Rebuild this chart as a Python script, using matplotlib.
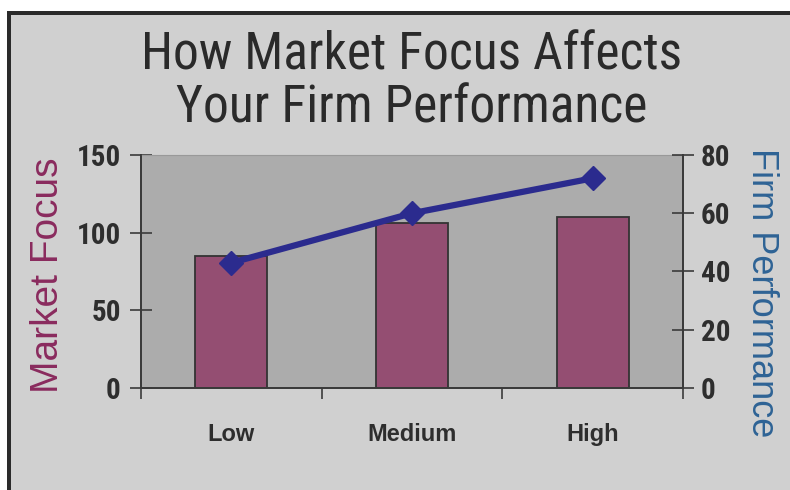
import matplotlib
matplotlib.use("Agg")
import matplotlib.pyplot as plt
from matplotlib import font_manager
from matplotlib.font_manager import FontProperties
from matplotlib.patches import Rectangle

# Chart data
categories = ["Low", "Medium", "High"]
market_focus = [85, 106, 110]
firm_performance = [43, 60, 72]
left_ticks = [0, 50, 100, 150]
right_ticks = [0, 20, 40, 60, 80]


def narrow_font(bold=False):
    """Pick a condensed sans face if one is installed, else plain Liberation Sans."""
    want = "bold" if bold else "normal"
    entries = font_manager.fontManager.ttflist
    preferred = ["Liberation Sans Narrow", "Arial Narrow", "Roboto Condensed",
                 "Open Sans Condensed", "DejaVu Sans Condensed", "Noto Sans Condensed"]
    def weight_ok(f):
        w = f.weight if isinstance(f.weight, int) else {"normal": 400, "regular": 400, "bold": 700}.get(str(f.weight), 400)
        return (w >= 600) == bold and f.style == "normal"
    for name in preferred:
        for f in entries:
            if f.name == name and weight_ok(f):
                return FontProperties(fname=f.fname)
    for f in entries:
        if str(f.stretch) in ("condensed", "semi-condensed", "extra-condensed") and "Sans" in f.name and weight_ok(f):
            return FontProperties(fname=f.fname)
    for f in entries:
        if ("Condensed" in f.fname or "Narrow" in f.fname) and "Sans" in f.fname and weight_ok(f):
            return FontProperties(fname=f.fname)
    return FontProperties(family="Liberation Sans", weight=want)


REGULAR = "Liberation Sans"
title_font = narrow_font(False)
tick_font = narrow_font(True)

BG = "#d0d0d0"
PLOT_BG = "#acacac"
BAR = "#944e72"
LINE = "#2b2b8e"
TEXT = "#2e2e2e"
AXIS = "#3a3a3a"

W, H = 790, 490
fig = plt.figure(figsize=(W / 100, H / 100), dpi=100, facecolor="white")

# Outer frame: dark border on top/left, light gray panel inside
fig.add_artist(Rectangle((7 / W, 0), 1 - 7 / W, 1 - 11 / H, transform=fig.transFigure,
                         facecolor="#2a2a2a", edgecolor="none", zorder=0))
fig.add_artist(Rectangle((11 / W, 0), 1 - 11 / W, 1 - 15 / H, transform=fig.transFigure,
                         facecolor=BG, edgecolor="none", zorder=0))

ax = fig.add_axes([141 / W, 1 - 388 / H, (683 - 141) / W, (388 - 155) / H])
ax.set_facecolor(PLOT_BG)

x = list(range(len(categories)))
ax.bar(x, market_focus, width=0.4, color=BAR, edgecolor="#333333", linewidth=1.3, zorder=2)
ax.set_xlim(-0.5, len(categories) - 0.5)
ax.set_ylim(0, 150)
ax.set_yticks(left_ticks)
ax.set_yticklabels([str(v) for v in left_ticks])

# Category boundaries carry the tick marks, names sit at bar centres
ax.set_xticks([i - 0.5 for i in range(len(categories) + 1)])
ax.set_xticklabels([])
ax.set_xticks(x, minor=True)
ax.set_xticklabels(categories, minor=True)
ax.tick_params(axis="x", which="major", direction="out", length=8, width=1.2, color=AXIS)
ax.tick_params(axis="x", which="minor", length=0, pad=25)
for lab in ax.get_xticklabels(minor=True):
    lab.set_fontfamily(REGULAR)
    lab.set_fontweight("bold")
    lab.set_fontsize(17)
    lab.set_color(TEXT)


def style_ticklabels(labels, size):
    for lab in labels:
        fp = tick_font.copy()
        fp.set_size(size)
        lab.set_fontproperties(fp)
        lab.set_color(TEXT)


ax.tick_params(axis="y", direction="inout", length=16, width=1.2, color=AXIS, pad=6.5)
style_ticklabels(ax.get_yticklabels(), 21)

for side in ("left", "bottom", "right"):
    ax.spines[side].set_color(AXIS)
    ax.spines[side].set_linewidth(1.3)
ax.spines["top"].set_color("#999999")

ax2 = ax.twinx()
ax2.plot(x, firm_performance, color=LINE, linewidth=4.5, marker="D", markersize=12,
         markerfacecolor=LINE, markeredgecolor=LINE, zorder=3)
ax2.set_ylim(0, 80)
ax2.set_yticks(right_ticks)
ax2.set_yticklabels([str(v) for v in right_ticks])
ax2.tick_params(axis="y", direction="inout", length=16, width=1.2, color=AXIS, pad=5)
style_ticklabels(ax2.get_yticklabels(), 21)
for side in ("left", "bottom", "right"):
    ax2.spines[side].set_color(AXIS)
    ax2.spines[side].set_linewidth(1.3)
ax2.spines["top"].set_visible(False)

fig.text(48 / W, 1 - 275 / H, "Market Focus", rotation=90, ha="center", va="center",
         fontsize=28, family=REGULAR, color="#8a2b5e")
fig.text(761 / W, 1 - 293 / H, "Firm Performance", rotation=-90, ha="center", va="center",
         fontsize=26, family=REGULAR, color="#2e6395")

tfp = title_font.copy()
tfp.set_size(40)
title = fig.text(412 / W, 1 - 82 / H, "How Market Focus Affects\nYour Firm Performance",
                 ha="center", va="center", fontproperties=tfp, color="#2a2a2a",
                 linespacing=1.07)

# Keep the title block about 540 px wide whatever face was found
renderer = fig.canvas.get_renderer()
width_px = title.get_window_extent(renderer).width
if width_px > 0:
    tfp.set_size(min(40, 40 * 540 / width_px))
    title.set_fontproperties(tfp)

fig.savefig("out.png", dpi=100, facecolor=fig.get_facecolor())
